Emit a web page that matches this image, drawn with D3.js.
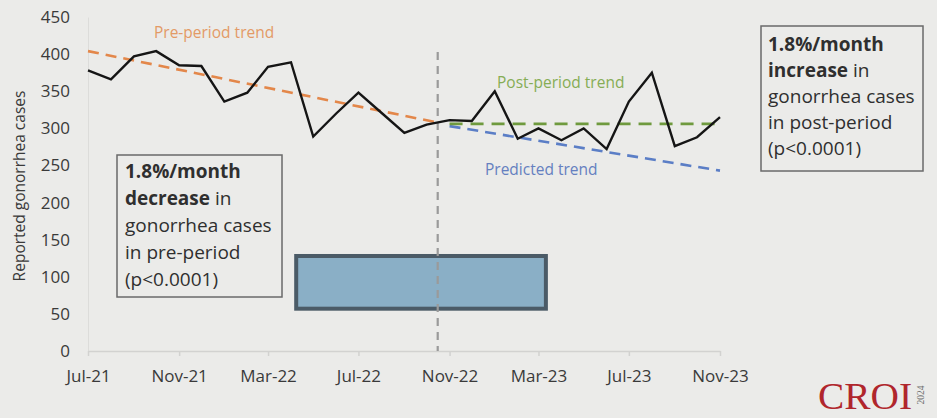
<!DOCTYPE html>
<html>
<head>
<meta charset="utf-8">
<script src="https://cdn.jsdelivr.net/npm/d3@7"></script>
<style>
  html, body { margin: 0; padding: 0; background: #ebebe9; }
  svg { display: block; }
</style>
</head>
<body>
<svg id="chart" width="937" height="418"></svg>
<script>
// ---------------- DATA ----------------
const months = ["2021-07","2021-08","2021-09","2021-10","2021-11","2021-12",
  "2022-01","2022-02","2022-03","2022-04","2022-05","2022-06","2022-07","2022-08",
  "2022-09","2022-10","2022-11","2022-12","2023-01","2023-02","2023-03","2023-04",
  "2023-05","2023-06","2023-07","2023-08","2023-09","2023-10","2023-11"];
const cases = [378, 366, 397, 404, 385, 384, 336, 348, 383, 389, 289, 320, 348, 321,
  294, 305, 311, 310, 350, 286, 300, 284, 300, 272, 336, 375, 276, 288, 315];

const preTrend = [["2021-07-01", 404], ["2022-10-15", 308]];
const postTrend = [["2022-11-01", 306], ["2023-11-01", 306]];
const predictedTrend = [["2022-11-01", 303], ["2023-11-01", 243]];

const interventionDate = "2022-10-16";
const interventionTop = 403;

const xTickLabels = ["Jul-21","Nov-21","Mar-22","Jul-22","Nov-22","Mar-23","Jul-23","Nov-23"];
const xTickDates = ["2021-07-01","2021-11-01","2022-03-01","2022-07-01","2022-11-01","2023-03-01","2023-07-01","2023-11-01"];
const yTicks = [0, 50, 100, 150, 200, 250, 300, 350, 400, 450];

const redactBox = { x0: "2022-04-08", x1: "2023-03-11", y0: 57, y1: 128 };

const leftNote = [["1.8%/month", ""], ["decrease", " in"], ["", "gonorrhea cases"], ["", "in pre-period"], ["", "(p<0.0001)"]];
const rightNote = [["1.8%/month", ""], ["increase", " in"], ["", "gonorrhea cases"], ["", "in post-period"], ["", "(p<0.0001)"]];

// ---------------- DRAW ----------------
const parse = s => new Date(s.length === 7 ? s + "-01T00:00:00" : s + "T00:00:00");
const svg = d3.select("#chart");
const font = "'Open Sans', 'DejaVu Sans', sans-serif";

const x = d3.scaleTime().domain([parse("2021-07-01"), parse("2023-11-01")]).range([88, 720]);
const y = d3.scaleLinear().domain([0, 450]).range([351, 17]);

// background
svg.append("rect").attr("width", 937).attr("height", 418).attr("fill", "#ebebe9");

// y axis (faint line, labels only)
const yAxis = d3.axisLeft(y).tickValues(yTicks).tickSize(0).tickPadding(18);
const gy = svg.append("g").attr("transform", "translate(88,0)").call(yAxis);
gy.select(".domain").attr("stroke", "#dcdcda").attr("stroke-width", 1);
gy.selectAll("text").attr("font-family", font).attr("font-size", 17).attr("fill", "#3a3a3a");

// x axis
const xAxis = d3.axisBottom(x).tickValues(xTickDates.map(parse))
  .tickFormat((d, i) => xTickLabels[i]).tickSizeInner(5).tickSizeOuter(0).tickPadding(14);
const gx = svg.append("g").attr("transform", "translate(0,351)").call(xAxis);
gx.select(".domain").attr("stroke", "#d2d2d0").attr("stroke-width", 1.5);
gx.selectAll(".tick line").attr("stroke", "#d2d2d0").attr("stroke-width", 1.5);
gx.selectAll("text").attr("font-family", font).attr("font-size", 17).attr("fill", "#3a3a3a");

// y axis title
svg.append("text")
  .attr("transform", "translate(25,186) rotate(-90)")
  .attr("text-anchor", "middle")
  .attr("font-family", font).attr("font-size", 15.5).attr("fill", "#3a3a3a")
  .text("Reported gonorrhea cases");

// redaction box
svg.append("rect")
  .attr("x", x(parse(redactBox.x0))).attr("y", y(redactBox.y1))
  .attr("width", x(parse(redactBox.x1)) - x(parse(redactBox.x0)))
  .attr("height", y(redactBox.y0) - y(redactBox.y1))
  .attr("fill", "#8aafc6").attr("stroke", "#4b5b67").attr("stroke-width", 4);

// intervention line
svg.append("line")
  .attr("x1", x(parse(interventionDate))).attr("x2", x(parse(interventionDate)))
  .attr("y1", y(interventionTop)).attr("y2", y(0))
  .attr("stroke", "#9a9a9a").attr("stroke-width", 2.2).attr("stroke-dasharray", "8,6");

// trend lines
const tline = d3.line().x(d => x(parse(d[0]))).y(d => y(d[1]));
svg.append("path").attr("d", tline(preTrend)).attr("fill", "none")
  .attr("stroke", "#e3874a").attr("stroke-width", 2.6).attr("stroke-dasharray", "11,7");
svg.append("path").attr("d", tline(predictedTrend)).attr("fill", "none")
  .attr("stroke", "#5b7ec6").attr("stroke-width", 2.6).attr("stroke-dasharray", "11,7");
svg.append("path").attr("d", tline(postTrend)).attr("fill", "none")
  .attr("stroke", "#6f9a3e").attr("stroke-width", 2.8).attr("stroke-dasharray", "13,8");

// observed series
const line = d3.line().x((d, i) => x(parse(months[i]))).y(d => y(d));
svg.append("path").attr("d", line(cases)).attr("fill", "none")
  .attr("stroke", "#151515").attr("stroke-width", 2.4).attr("stroke-linejoin", "miter");

// trend labels
svg.append("text").attr("x", 154).attr("y", 38).attr("font-family", font).attr("font-size", 15.5)
  .attr("fill", "#e39a66").text("Pre-period trend");
svg.append("text").attr("x", 497).attr("y", 88).attr("font-family", font).attr("font-size", 15.5)
  .attr("fill", "#86ad55").text("Post-period trend");
svg.append("text").attr("x", 485).attr("y", 175).attr("font-family", font).attr("font-size", 15.5)
  .attr("fill", "#6580c0").text("Predicted trend");

// note boxes
function note(lines, bx, by, bw, bh, tx, ty0, lh) {
  svg.append("rect").attr("x", bx).attr("y", by).attr("width", bw).attr("height", bh)
    .attr("fill", "#ebebe9").attr("stroke", "#6a6a6a").attr("stroke-width", 1.5);
  lines.forEach((l, i) => {
    const t = svg.append("text").attr("x", tx).attr("y", ty0 + i * lh)
      .attr("font-family", font).attr("font-size", 19).attr("fill", "#2f2f2f");
    if (l[0]) t.append("tspan").attr("font-weight", "bold").text(l[0]);
    if (l[1]) t.append("tspan").text(l[1]);
  });
}
note(leftNote, 117, 155, 165, 142, 125, 178, 27);
note(rightNote, 761, 26, 162, 145, 768, 51, 26);

// CROI logo
svg.append("text").attr("x", 818).attr("y", 409)
  .attr("font-family", "'Liberation Serif', 'DejaVu Serif', serif").attr("font-size", 38)
  .attr("textLength", 94).attr("lengthAdjust", "spacingAndGlyphs")
  .attr("fill", "#b0262c").text("CROI");
svg.append("text").attr("transform", "translate(924,395) rotate(-90)")
  .attr("text-anchor", "middle")
  .attr("font-family", "'Liberation Serif', serif").attr("font-size", 9.5)
  .attr("fill", "#6f6f6f").text("2024");
</script>
</body>
</html>
